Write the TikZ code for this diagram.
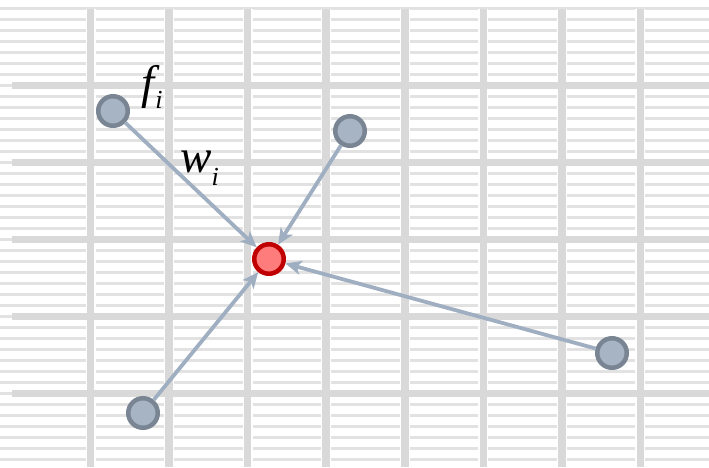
\documentclass[tikz,border=0pt]{standalone}
\usepackage{fontspec}
\setmainfont{Liberation Serif}
\usetikzlibrary{arrows.meta}
\definecolor{gridgray}{HTML}{D9D9D9}
\definecolor{thingray}{HTML}{E2E2E2}
\definecolor{nodefill}{HTML}{A6B4C4}
\definecolor{nodeedge}{HTML}{7A8594}
\definecolor{edgecol}{HTML}{9FAFC1}
\definecolor{redfill}{HTML}{FF7C7C}
\definecolor{rededge}{HTML}{C00000}
\newcommand\mainsz{\fontsize{47}{47}\selectfont\itshape}
\newcommand\subsz{\fontsize{26}{26}\selectfont\itshape}
\tikzset{
  thinline/.style={thingray, line width=2.2pt},
  vline/.style={gridgray, line width=7.5pt},
  vhalo/.style={white, line width=10pt},
  hline/.style={gridgray, line width=7.5pt},
  src/.style={circle, draw=nodeedge, fill=nodefill, line width=4.5pt, minimum size=29.5pt, inner sep=0pt},
  dst/.style={circle, draw=rededge, fill=redfill, line width=4.5pt, minimum size=29.5pt, inner sep=0pt},
  conn/.style={edgecol, line width=3.8pt, -{Stealth[length=16pt, width=14pt, inset=4pt]}},
  lbl/.style={inner sep=0pt, anchor=base west}
}
\begin{document}
\begin{tikzpicture}[x=1pt, y=-1pt]
\useasboundingbox (0,0) rectangle (709,467);
\fill[white] (0,0) rectangle (709,467);
% thin horizontal lines
\foreach \k in {0,...,41} {
  \draw[thinline] (0,{8.5+11*\k}) -- (709,{8.5+11*\k});
}
% vertical lines
\foreach \j in {0,...,7} {
  \draw[vhalo] ({90.5+78.57*\j},9) -- ({90.5+78.57*\j},467);
}
\foreach \j in {0,...,7} {
  \draw[vline] ({90.5+78.57*\j},9) -- ({90.5+78.57*\j},467);
}
% thick horizontal lines
\foreach \k in {0,...,4} {
  \draw[hline] (12,{85.5+77*\k}) -- (709,{85.5+77*\k});
}
% nodes
\node[src] (a) at (113,111) {};
\node[src] (b) at (350,131) {};
\node[src] (c) at (612,353) {};
\node[src] (d) at (143,413) {};
\node[dst] (r) at (269,259) {};
% connectors
\draw[conn] (a) -- (r);
\draw[conn] (b) -- (r);
\draw[conn] (c) -- (r);
\draw[conn] (d) -- (r);
% labels
\node[lbl] (fl) at (141,98) {\mainsz f\kern1pt\raisebox{-10pt}{\subsz i}};
\node[lbl] (wl) at (180,172) {\mainsz w\kern0pt\raisebox{-13pt}{\subsz i}};
\end{tikzpicture}
\end{document}
